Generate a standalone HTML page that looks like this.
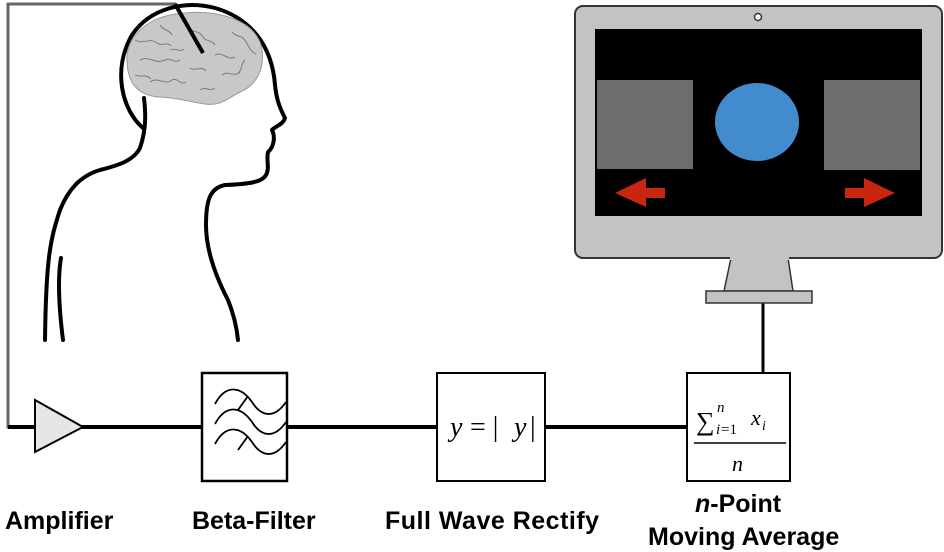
<!DOCTYPE html>
<html><head><style>
body{margin:0;width:944px;height:552px;background:#fff;overflow:hidden;position:relative;font-family:"Liberation Sans",sans-serif}
.l{position:absolute;font-weight:bold;font-size:25px;color:#000;white-space:nowrap;line-height:28px}
</style></head><body>
<svg width="944" height="552" style="position:absolute;left:0;top:0">
<polyline points="176,4 8,4 8,427 40,427" fill="none" stroke="#666" stroke-width="3"/>
<line x1="8" y1="427" x2="687" y2="427" stroke="#000" stroke-width="4"/>
<line x1="763" y1="302" x2="763" y2="373" stroke="#000" stroke-width="3"/>
<polygon points="35,400 83,427 35,452" fill="#e6e6e6" stroke="#000" stroke-width="2"/>
<g fill="none" stroke="#000" stroke-width="4" stroke-linecap="round" stroke-linejoin="round">
<path d="M143,128 C122,110 112,70 132,35 C150,8 185,0 215,8 C250,18 272,45 275,85 C276,95 278,105 285,118 C283,125 275,126 272,130 C276,138 273,148 268,152 C266,160 270,168 266,175 C262,182 250,184 225,185 C210,188 206,200 206,225 C206,250 215,275 228,300 C234,315 237,330 238,340"/>
<path d="M144,98 C146,115 146,130 140,148 C134,160 120,165 100,170 C80,176 68,190 60,210 C50,240 46,260 45,340"/>
<path d="M61,258 C58,275 58,300 63,340"/>
</g>
<path d="M127,62 C125,35 150,15 185,13 C215,10 252,18 261,45 C266,65 258,85 240,92 C225,100 220,106 205,104 C190,102 180,98 160,97 C140,96 128,85 127,62Z" fill="#c8c8c8" stroke="#999" stroke-width="1"/>
<g fill="none" stroke="#7a7a7a" stroke-width="1">
<path d="M135,40 c8,5 15,-3 22,3 c5,4 10,-2 14,3 M140,60 c10,-5 15,5 25,0 c5,-3 10,4 15,0 M150,82 c8,-6 15,4 22,-2 c6,-3 8,6 14,2 M185,25 c5,8 15,5 18,12 c3,5 8,2 12,8 M215,55 c8,-4 12,6 20,2 M222,75 c6,-5 12,3 18,-3 M232,32 c5,6 10,2 14,10 c3,5 5,10 10,12 M135,75 c6,3 10,-2 16,4 M190,68 c6,4 10,-3 16,3 M200,90 c5,-4 10,2 15,-2 M160,25 c3,6 9,4 12,10 M245,60 c-5,5 -2,10 -8,14 M170,50 c5,-3 10,3 14,-1"/>
</g>
<line x1="175" y1="4" x2="203" y2="53" stroke="#000" stroke-width="4"/>
<rect x="202" y="373" width="85" height="108" fill="#fff" stroke="#000" stroke-width="2.5"/>
<rect x="437" y="373" width="108" height="108" fill="#fff" stroke="#000" stroke-width="2"/>
<rect x="687" y="373" width="103" height="108" fill="#fff" stroke="#000" stroke-width="2"/>
<g fill="none" stroke="#000" stroke-width="1.8">
<path d="M215,404 C225,385 240,385 252,402 C262,418 275,418 286,402"/>
<path d="M215,424 C225,405 240,405 252,422 C262,438 275,438 286,422"/>
<path d="M215,444 C225,425 240,425 252,442 C262,458 275,458 286,442"/>
<line x1="238" y1="410" x2="248" y2="396"/><line x1="238" y1="450" x2="248" y2="436"/>
</g>
<line x1="694" y1="443" x2="786" y2="443" stroke="#000" stroke-width="1.5"/>
<rect x="575" y="6" width="367" height="252" rx="8" fill="#c3c3c3" stroke="#333" stroke-width="2"/>
<circle cx="758" cy="17" r="3.5" fill="#fff" stroke="#333" stroke-width="1.5"/>
<rect x="595" y="29" width="327" height="187" fill="#000"/>
<rect x="597" y="80" width="96" height="89" fill="#6d6d6d"/>
<rect x="824" y="80" width="96" height="90" fill="#6d6d6d"/>
<ellipse cx="757" cy="122" rx="42" ry="39" fill="#428bcd"/>
<polygon points="615,193 646,178 646,188 665,188 665,198 646,198 646,207" fill="#c8260e"/>
<polygon points="895,193 864,178 864,188 845,188 845,198 864,198 864,207" fill="#c8260e"/>
<polygon points="731,258 788,258 793,291 724,291" fill="#c3c3c3" stroke="#333" stroke-width="1.5"/>
<rect x="706" y="291" width="106" height="12" fill="#c3c3c3" stroke="#333" stroke-width="1.5"/>
<rect x="730" y="257" width="59" height="3" fill="#c3c3c3"/>
<text x="696" y="430" font-family="Liberation Serif,serif" font-size="26">∑</text>
<text x="717" y="412" font-family="Liberation Serif,serif" font-style="italic" font-size="15">n</text>
<text x="716" y="434" font-family="Liberation Serif,serif" font-style="italic" font-size="15">i</text>
<text x="721" y="434" font-family="Liberation Serif,serif" font-size="15">=1</text>
<text x="751" y="425" font-family="Liberation Serif,serif" font-style="italic" font-size="22">x</text>
<text x="762" y="430" font-family="Liberation Serif,serif" font-style="italic" font-size="14">i</text>
<text x="732" y="471" font-family="Liberation Serif,serif" font-style="italic" font-size="22">n</text>
<text x="450" y="436" font-family="Liberation Serif,serif" font-style="italic" font-size="28">y</text>
<text x="470" y="436" font-family="Liberation Serif,serif" font-size="28">= |</text>
<text x="514" y="436" font-family="Liberation Serif,serif" font-style="italic" font-size="28">y</text>
<text x="530" y="436" font-family="Liberation Serif,serif" font-size="28">|</text>
</svg>
<div class="l" style="left:5px;top:507px">Amplifier</div>
<div class="l" style="left:192px;top:507px">Beta-Filter</div>
<div class="l" style="left:385px;top:507px;letter-spacing:0.5px">Full Wave Rectify</div>
<div class="l" style="left:695px;top:490px"><i>n</i>-Point</div>
<div class="l" style="left:648px;top:523px">Moving Average</div>
</body></html>
